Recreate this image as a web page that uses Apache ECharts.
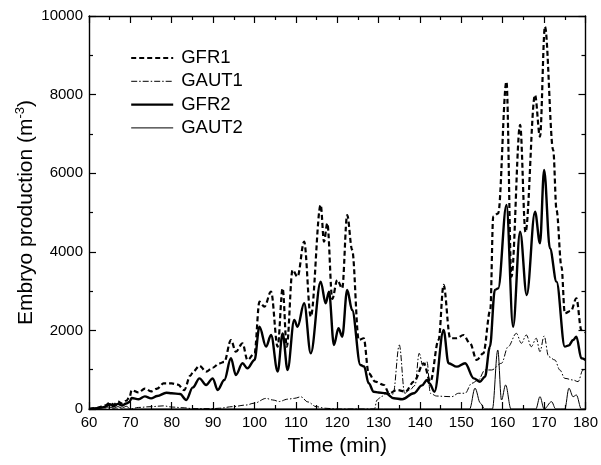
<!DOCTYPE html>
<html>
<head>
<meta charset="utf-8">
<script src="https://cdn.jsdelivr.net/npm/echarts@6/dist/echarts.min.js"></script>
<style>
html,body{margin:0;padding:0;background:#fff;}
#chart{width:601px;height:465px;}
</style>
</head>
<body>
<div id="chart"></div>
<script>
// ---- data (time in min, production in m^-3) ----
var seriesNames = ['GFR1', 'GAUT1', 'GFR2', 'GAUT2'];
var xTicks = [60, 70, 80, 90, 100, 110, 120, 130, 140, 150, 160, 170, 180];
var yTicks = [0, 2000, 4000, 6000, 8000, 10000];

var gfr1T = [60,62,63,64,65,66,67,68,69,69.8,70.3,72,73.5,75,76.5,78,80,81.5,83,84.5,85.2,86.7,88.3,89.9,91.5,92.7,94.3,95.5,97.1,98.3,100,101.2,102.4,104,105.6,106.8,107.8,109.2,110.4,112,113.6,116,116.8,117.6,118.8,120,121.2,122.4,123.6,125.2,126.4,127.6,129.2,131.3,132.5,134.5,136.5,138.5,140.9,142.5,144.5,145.7,147.3,148.9,150.5,152.1,153.7,155.3,157,157.7,158.9,160.9,162.1,164.2,165.5,167.8,169,170.2,172.2,173,174.2,175,176.5,177.8,179,180];
var gfr1V = [0,30,60,90,160,110,190,140,210,300,480,420,520,450,520,650,650,620,480,850,950,1100,950,1050,1160,1200,1756,1458,1672,1247,1417,2730,2603,2985,1586,3070,1586,3537,3367,4258,2350,5192,4258,4725,2800,3283,3070,4937,4047,1756,1800,908,695,611,400,484,440,695,1163,695,1756,3156,1800,1800,1883,1672,1247,1417,2520,4894,4980,8330,3367,7228,4500,7990,6930,9730,6590,5064,3620,2435,2500,2817,2010,1950];

var gaut1T = [60,70,72,75,78,80,83,85,90,91.5,94.7,97.9,100,102.8,104.4,106,108,109.6,111.2,112.9,114.9,117,120,129,129.6,130.7,132,133.5,135,136.3,137.5,138.8,139.8,140.7,141.7,142.5,144,146,147.7,149.3,150.9,152.5,154.1,155.7,157.3,159.7,161.3,163.3,164.5,165.7,166.9,168.1,169,170,171.1,172.6,173.8,175,177,178.2,179.4,180];
var gaut1V = [0,0,40,60,80,50,30,10,10,20,60,100,150,270,230,190,250,270,310,180,60,20,0,0,229,320,400,380,1629,400,480,600,1417,1100,1205,400,330,320,313,400,400,654,738,993,993,1163,1586,1925,1672,1883,1586,1800,1458,1858,1331,1247,993,780,738,695,993,1000];

var gfr2T = [60,62,63,64,65,66,67,68,69,69.8,70.3,72,73.5,75,76.5,78.7,80,82,83.5,85.1,86.7,88.3,89.9,91.1,92.7,94.3,95.5,97.1,98.3,100,101.2,102.8,104,105.6,106.8,108,109.6,110.4,112,113.6,116,117.2,118,119.2,120.3,121.2,122.4,123.6,125.6,126.5,127.6,128.8,130,131.7,133.7,135.7,138.5,140.5,141.7,142.3,143.5,145.7,146.9,148.9,150.9,153,154.5,155.7,156.9,158.1,158.9,160.9,162.5,164.2,165.8,167.8,169,170,171.4,173,175,176,177,177.8,179,180];
var gfr2V = [0,20,40,60,120,70,130,90,140,180,280,250,320,270,330,415,400,380,229,550,780,611,780,484,738,1290,865,1163,1035,1247,2094,1586,1883,950,1925,993,2265,2094,2690,1417,3240,2690,2985,1629,2054,1840,3030,2520,1120,1080,654,440,420,400,272,247,400,600,738,650,440,2010,1163,1077,1163,780,695,822,1586,3030,3070,5192,2094,4512,2900,5021,4216,6083,4090,3240,1586,1620,1756,1840,1290,1250];

var gaut2T = [60,65,66,67,68,69,70,152,153.3,154.6,155.6,157.5,158.8,159.7,160.7,162,168,169,170,171.8,172.8,175,176,177,177.8,179,180];
var gaut2V = [0,50,20,60,20,70,0,0,530,150,0,0,1502,229,611,0,0,313,0,186,0,0,527,313,356,0,0];

function pairs(t, v) { return t.map(function (x, i) { return [x, v[i]]; }); }

var chart = echarts.init(document.getElementById('chart'), null, {renderer: 'canvas'});
var FONT = '"Liberation Sans", Arial, Helvetica, sans-serif';
function plain(v) { return String(v); }

var styles = {
  GFR1: {color: '#000', width: 2.2, type: [5, 3]},
  GAUT1: {color: '#000', width: 1, type: [6, 2, 1.5, 2]},
  GFR2: {color: '#000', width: 2.4, type: 'solid'},
  GAUT2: {color: '#000', width: 1, type: 'solid'}
};

function axisCommon(extra) {
  var base = {
    axisLine: {show: true, onZero: false, lineStyle: {color: '#000', width: 1.4}},
    axisTick: {show: true, inside: true, length: 7, lineStyle: {color: '#000', width: 1.2}},
    minorTick: {show: true, splitNumber: 2, length: 4, lineStyle: {color: '#000', width: 1.2}},
    splitLine: {show: false},
    minorSplitLine: {show: false}
  };
  for (var k in extra) base[k] = extra[k];
  return base;
}

var option = {
  animation: false,
  backgroundColor: '#fff',
  textStyle: {fontFamily: FONT},
  grid: {left: 89, right: 13.5, top: 16, bottom: 56, containLabel: false},
  legend: {
    orient: 'vertical',
    left: 130,
    top: 48,
    padding: 0,
    itemWidth: 42,
    itemHeight: 14,
    itemGap: 3.3,
    data: seriesNames.map(function (n) { return {name: n, lineStyle: styles[n]}; }),
    itemStyle: {opacity: 0, borderWidth: 0},
    textStyle: {fontFamily: FONT, fontSize: 18.5, color: '#000', lineHeight: 20, padding: [0, 0, 0, 3]}
  },
  xAxis: [
    axisCommon({type: 'value', position: 'bottom', min: xTicks[0], max: xTicks[xTicks.length - 1], interval: 10,
      name: 'Time (min)', nameLocation: 'middle', nameGap: 27, nameMoveOverlap: false,
      nameTextStyle: {fontFamily: FONT, fontSize: 21, color: '#000'},
      axisLabel: {show: true, fontFamily: FONT, fontSize: 15, color: '#000', margin: 6, formatter: plain}}),
    axisCommon({type: 'value', position: 'top', min: xTicks[0], max: xTicks[xTicks.length - 1], interval: 10,
      axisLabel: {show: false}})
  ],
  yAxis: [
    axisCommon({type: 'value', position: 'left', min: yTicks[0], max: yTicks[yTicks.length - 1], interval: 2000,
      name: '{a|Embryo production (m}{s|-3}{a|)}', nameLocation: 'middle', nameGap: 51, nameRotate: 90, nameMoveOverlap: false,
      nameTextStyle: {fontFamily: FONT, fontSize: 21, color: '#000',
        rich: {a: {fontFamily: FONT, fontSize: 21, color: '#000'}, s: {fontFamily: FONT, fontSize: 13, color: '#000', verticalAlign: 'top', padding: [0, 0, 11, 0]}}},
      axisLabel: {show: true, fontFamily: FONT, fontSize: 15, color: '#000', margin: 6, formatter: plain}}),
    axisCommon({type: 'value', position: 'right', min: yTicks[0], max: yTicks[yTicks.length - 1], interval: 2000,
      axisLabel: {show: false}})
  ],
  series: [
    {name: 'GFR1', type: 'line', data: pairs(gfr1T, gfr1V), showSymbol: false, symbol: 'none', smooth: 0.35, smoothMonotone: 'x',
      lineStyle: styles.GFR1, itemStyle: {color: '#000'}, z: 3},
    {name: 'GAUT1', type: 'line', data: pairs(gaut1T, gaut1V), showSymbol: false, symbol: 'none', smooth: 0.35, smoothMonotone: 'x',
      lineStyle: styles.GAUT1, itemStyle: {color: '#000'}, z: 2},
    {name: 'GFR2', type: 'line', data: pairs(gfr2T, gfr2V), showSymbol: false, symbol: 'none', smooth: 0.35, smoothMonotone: 'x',
      lineStyle: styles.GFR2, itemStyle: {color: '#000'}, z: 4},
    {name: 'GAUT2', type: 'line', data: pairs(gaut2T, gaut2V), showSymbol: false, symbol: 'none', smooth: 0.35, smoothMonotone: 'x',
      lineStyle: styles.GAUT2, itemStyle: {color: '#000'}, z: 2}
  ]
};
chart.setOption(option);
</script>
</body>
</html>
